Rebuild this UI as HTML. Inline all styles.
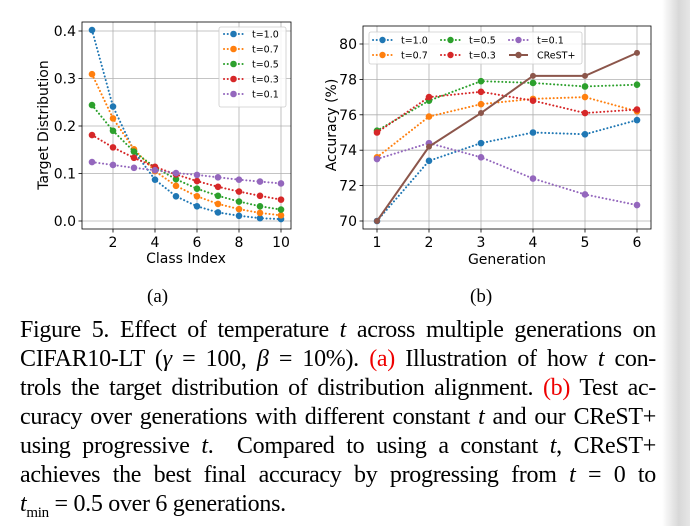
<!DOCTYPE html>
<html><head><meta charset="utf-8"><style>
body{margin:0;width:690px;height:526px;overflow:hidden;background:#fff;font-family:"Liberation Sans",sans-serif;position:relative}
#shade{position:absolute;left:662px;top:0;width:28px;height:526px;background:linear-gradient(to right,#fff,#d8d8d8 60%,#e6e6e6)}
.cap{position:absolute;left:20px;width:636px;font-family:"Liberation Serif",serif;font-size:24px;text-align:justify;text-align-last:justify;white-space:nowrap;line-height:29px;letter-spacing:-0.3px}
.cap.last{text-align-last:left}
.red{color:#e00}
i{font-style:italic}
.sub{position:absolute;font-family:"Liberation Serif",serif;font-size:19px}
</style></head><body>
<div id="shade"></div>
<svg id="c" width="690" height="280" style="position:absolute;left:0;top:0"></svg>
<div class="sub" style="left:147px;top:286px">(a)</div>
<div class="sub" style="left:470px;top:286px">(b)</div>
<div>
<div class="cap" style="top:316px">Figure 5. Effect of temperature <i>t</i> across multiple generations on</div>
<div class="cap" style="top:345px">CIFAR10-LT (<i>γ</i> = 100, <i>β</i> = 10%). <span class="red">(a)</span> Illustration of how <i>t</i> con-</div>
<div class="cap" style="top:374px">trols the target distribution of distribution alignment. <span class="red">(b)</span> Test ac-</div>
<div class="cap" style="top:403px">curacy over generations with different constant <i>t</i> and our CReST+</div>
<div class="cap" style="top:432px">using progressive <i>t</i>. &nbsp;Compared to using a constant <i>t</i>, CReST+</div>
<div class="cap" style="top:461px">achieves the best final accuracy by progressing from <i>t</i> = 0 to</div>
<div class="cap last" style="top:490px"><i>t</i><sub style="font-size:15px">min</sub> = 0.5 over 6 generations.</div>
</div>
<script>
const leftClasses=[1,2,3,4,5,6,7,8,9,10];
const leftLabels=["t=1.0","t=0.7","t=0.5","t=0.3","t=0.1"];
const left10=[.402,.241,.147,.087,.052,.031,.018,.011,.006,.004];
const left07=[.309,.216,.151,.105,.074,.052,.036,.025,.017,.012];
const left05=[.244,.19,.146,.113,.088,.068,.053,.041,.031,.024];
const left03=[.181,.155,.133,.114,.098,.084,.072,.062,.053,.045];
const left01=[.124,.118,.112,.107,.101,.097,.092,.087,.083,.079];
const leftXTicks=[2,4,6,8,10];
const leftYTicks=[0,0.1,0.2,0.3,0.4];
const gens=[1,2,3,4,5,6];
const rightLabels=["t=1.0","t=0.7","t=0.5","t=0.3","t=0.1","CReST+"];
const acc10=[70,73.4,74.4,75,74.9,75.7];
const acc07=[73.6,75.9,76.6,76.9,77,76.2];
const acc05=[75.1,76.8,77.9,77.8,77.6,77.7];
const acc03=[75,77,77.3,76.8,76.1,76.3];
const acc01=[73.5,74.4,73.6,72.4,71.5,70.9];
const accCrest=[70,74.2,76.1,78.2,78.2,79.5];
const rightYTicks=[70,72,74,76,78,80];
const colors=["#1f77b4","#ff7f0e","#2ca02c","#d62728","#9467bd","#8c564b"];
const DOT='0.1 3.6';
const svg=document.getElementById('c');const NS="http://www.w3.org/2000/svg";
function el(t,a,p){const e=document.createElementNS(NS,t);for(const k in a)e.setAttribute(k,a[k]);(p||svg).appendChild(e);return e;}
function txt(x,y,s,o,name){const e=el('text',Object.assign({x:x,y:y,'font-size':14,fill:'#000','font-family':'DejaVu Sans, Liberation Sans, sans-serif'},o||{}));e.textContent=s;return e;}
const L={x0:82,x1:291,y0:22,y1:229};
const lx=v=>92+(v-1)*(281-92)/9, ly=v=>221-v*(221-31)/0.4;
function grid(xs,ys,fx,fy,B,pre,fmt){
 xs.forEach(v=>{const g=el('line',{x1:fx(v),x2:fx(v),y1:B.y0,y2:B.y1,stroke:'#b0b0b0','stroke-width':0.8});
  el('line',{x1:fx(v),x2:fx(v),y1:B.y1,y2:B.y1+3.5,stroke:'#000','stroke-width':0.8});
  txt(fx(v),B.y1+18,String(v),{'text-anchor':'middle'},pre+'-x-tick');});
 ys.forEach(v=>{const g=el('line',{x1:B.x0,x2:B.x1,y1:fy(v),y2:fy(v),stroke:'#b0b0b0','stroke-width':0.8});
  el('line',{x1:B.x0-3.5,x2:B.x0,y1:fy(v),y2:fy(v),stroke:'#000','stroke-width':0.8});
  txt(B.x0-6,fy(v)+5,fmt(v),{'text-anchor':'end'},pre+'-y-tick');});
}
grid(leftXTicks,leftYTicks,lx,ly,L,'left',v=>v.toFixed(1));
function series(xs,ys,fx,fy,c,dotted,name){
 const pts=xs.map((x,i)=>fx(x)+','+fy(ys[i])).join(' ');
 const p=el('polyline',{points:pts,fill:'none',stroke:c,'stroke-width':2,'stroke-dasharray':dotted?DOT:'none','stroke-linecap':dotted?'round':'butt'});
 
 xs.forEach((x,i)=>{const m=el('circle',{cx:fx(x),cy:fy(ys[i]),r:dotted?3.3:3,fill:c});});
}
[left10,left07,left05,left03,left01].forEach((d,i)=>series(leftClasses,d,lx,ly,colors[i],true,'left-'+leftLabels[i]));
let f=el('rect',{x:L.x0,y:L.y0,width:L.x1-L.x0,height:L.y1-L.y0,fill:'none',stroke:'#000','stroke-width':0.8});
txt(186,263,'Class Index',{'text-anchor':'middle'},'left-x-axis-title');
txt(0,0,'Target Distribution',{'text-anchor':'middle',transform:'translate(48,125) rotate(-90)'},'left-y-axis-title');
let lg=el('rect',{x:219,y:27,width:67,height:80,fill:'#fff','fill-opacity':0.85,stroke:'#ccc','stroke-width':0.8,rx:2});
leftLabels.forEach((s,i)=>{const y=34+i*15;
 el('line',{x1:224,x2:243,y1:y,y2:y,stroke:colors[i],'stroke-width':2,'stroke-dasharray':DOT,'stroke-linecap':'round'});
 el('circle',{cx:233.5,cy:y,r:3.3,fill:colors[i]});
 txt(252,y+3.5,s,{'font-size':9.5},'left-legend-entry');});
const R={x0:363,x1:651,y0:26,y1:229};
const rx=v=>377+(v-1)*(637-377)/5, ry=v=>221-(v-70)*(221-44)/10;
grid(gens,rightYTicks,rx,ry,R,'right',v=>String(v));
[acc10,acc07,acc05,acc03,acc01].forEach((d,i)=>series(gens,d,rx,ry,colors[i],true,'right-'+rightLabels[i]));
series(gens,accCrest,rx,ry,colors[5],false,'right-crest');
f=el('rect',{x:R.x0,y:R.y0,width:R.x1-R.x0,height:R.y1-R.y0,fill:'none',stroke:'#000','stroke-width':0.8});
txt(507,264,'Generation',{'text-anchor':'middle'},'right-x-axis-title');
txt(0,0,'Accuracy (%)',{'text-anchor':'middle',transform:'translate(336,125) rotate(-90)'},'right-y-axis-title');
lg=el('rect',{x:369,y:32,width:213,height:32,fill:'#fff','fill-opacity':0.85,stroke:'#ccc','stroke-width':0.8,rx:2});
const order=[[0,0],[0,1],[1,0],[1,1],[2,0],[2,1]];
rightLabels.forEach((s,i)=>{
 const [cx,cy]=order[i];const x=373+cx*68,y=40+cy*15;const dotted=i<5;
 el('line',{x1:x,x2:x+19,y1:y,y2:y,stroke:colors[i],'stroke-width':2,'stroke-dasharray':dotted?DOT:'none','stroke-linecap':dotted?'round':'butt'});
 el('circle',{cx:x+9.5,cy:y,r:3.2,fill:colors[i]});
 txt(x+28,y+3.5,s,{'font-size':9.5},'right-legend-entry');});
</script>
</body></html>
